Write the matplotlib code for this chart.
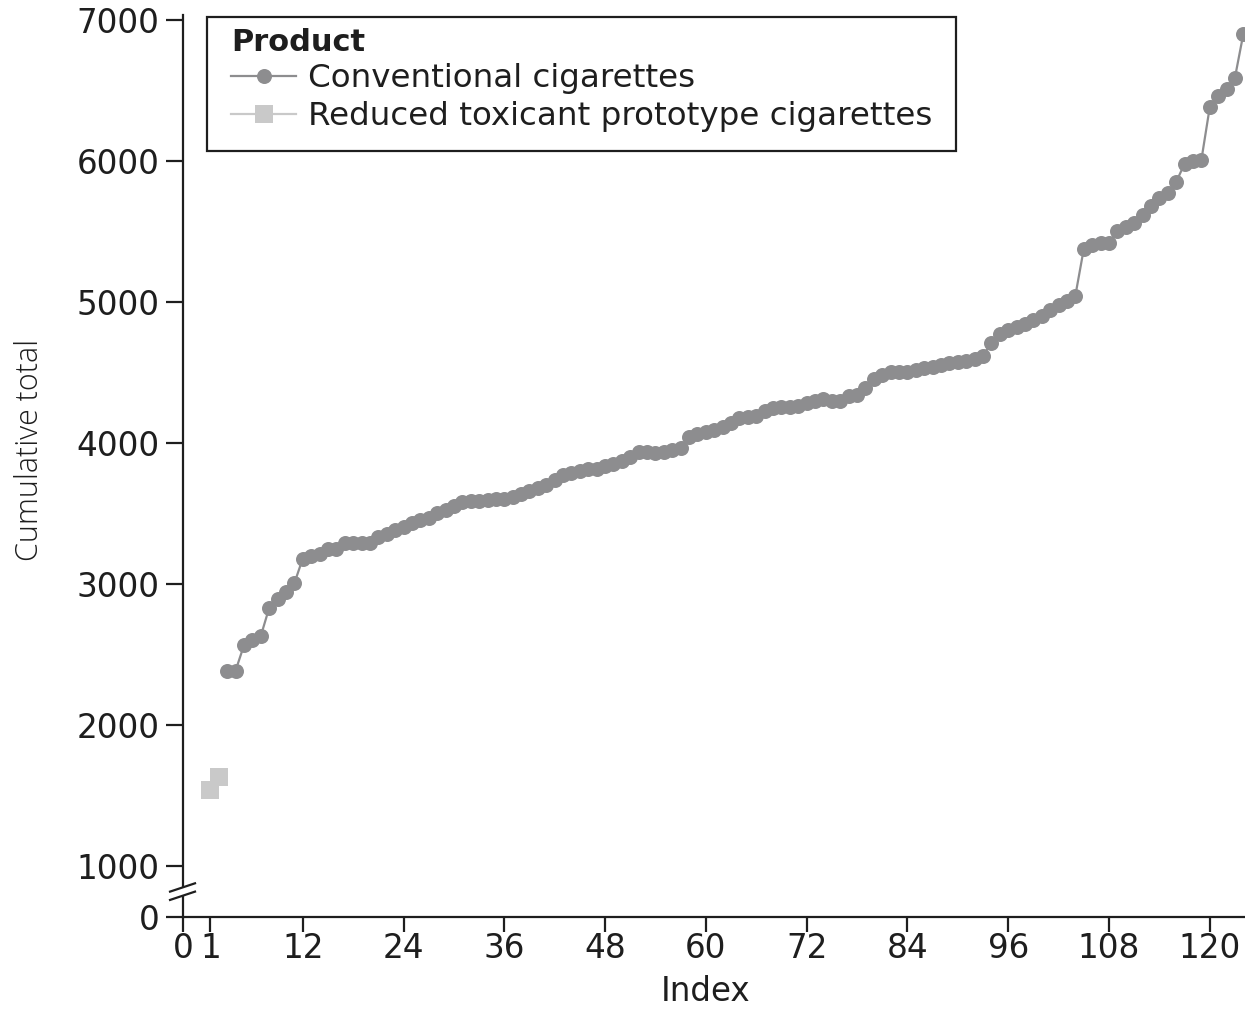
import matplotlib
matplotlib.use("Agg")
import matplotlib.pyplot as plt
from matplotlib.lines import Line2D
from matplotlib.patches import Polygon, Rectangle
from matplotlib.transforms import blended_transform_factory

plt.rcParams["font.family"] = ["DejaVu Sans"]

# Reduced toxicant prototype cigarettes
reduced_index = [1, 2]
reduced_total = [1540, 1630]

# Conventional cigarettes
conv_index = list(range(3, 125))
conv_total = [
    2385, 2385, 2565, 2600, 2630, 2830, 2890, 2945, 3005, 3180,   # 3-12
    3200, 3215, 3250, 3245, 3290, 3290, 3290, 3290, 3330, 3355,   # 13-22
    3380, 3405, 3430, 3450, 3470, 3505, 3525, 3555, 3580, 3590,   # 23-32
    3585, 3595, 3605, 3600, 3620, 3640, 3660, 3680, 3700, 3740,   # 33-42
    3770, 3785, 3800, 3815, 3812, 3835, 3850, 3870, 3900, 3935,   # 43-52
    3935, 3928, 3938, 3950, 3965, 4045, 4065, 4080, 4093, 4115,   # 53-62
    4140, 4175, 4182, 4190, 4230, 4245, 4255, 4257, 4262, 4280,   # 63-72
    4300, 4315, 4295, 4300, 4330, 4340, 4390, 4450, 4485, 4500,   # 73-82
    4505, 4505, 4520, 4530, 4540, 4550, 4565, 4575, 4580, 4595,   # 83-92
    4620, 4710, 4775, 4800, 4825, 4845, 4870, 4900, 4940, 4975,   # 93-102
    5010, 5045, 5375, 5405, 5415, 5420, 5505, 5530, 5560, 5620,   # 103-112
    5680, 5740, 5770, 5850, 5980, 6000, 6005, 6380, 6460, 6510,   # 113-122
    6590, 6900,                                                   # 123-124
]

x_ticks = [1, 12, 24, 36, 48, 60, 72, 84, 96, 108, 120]
y_ticks = [1000, 2000, 3000, 4000, 5000, 6000, 7000]

X_MIN, X_MAX = -2.26, 124.2
Y_MIN, Y_MAX = 638, 7035

CONV_COLOR = "#8d8d8f"
RED_COLOR = "#c9c9c9"
INK = "#1e1e1e"

W, H = 1245, 1009
fig = plt.figure(figsize=(W / 100, H / 100), dpi=100)
ax = fig.add_axes([183 / W, 1 - 917 / H, 1 - 183 / W, (917 - 15) / H])

ax.plot(conv_index, conv_total, color=CONV_COLOR, lw=1.6, marker="o",
        markersize=10.8, markeredgewidth=0, label="Conventional cigarettes",
        zorder=3)
ax.plot(reduced_index, reduced_total, color=RED_COLOR, lw=1.6, marker="s",
        markersize=12.5, markeredgewidth=0, linestyle="none",
        label="Reduced toxicant prototype cigarettes", zorder=3)

ax.set_xlim(X_MIN, X_MAX)
ax.set_ylim(Y_MIN, Y_MAX)

# the axis origins carry the "0" labels
ax.set_xticks([X_MIN] + x_ticks)
ax.set_xticklabels(["0"] + [str(t) for t in x_ticks])
ax.set_yticks([Y_MIN] + y_ticks)
ax.set_yticklabels(["0"] + [str(t) for t in y_ticks])

for side in ("top", "right"):
    ax.spines[side].set_visible(False)
for side in ("left", "bottom"):
    ax.spines[side].set_linewidth(1.6)
    ax.spines[side].set_color(INK)

ax.tick_params(axis="y", direction="out", length=12, width=1.6,
               labelsize=23.5, pad=5, colors=INK)
ax.tick_params(axis="x", direction="out", length=11, width=1.6,
               labelsize=23.5, pad=0, colors=INK)

ax.set_xlabel("Index", fontsize=23.5, color=INK)
ax.xaxis.set_label_coords((706 - 183) / 1062, (917 - 1008) / 902)
ax.xaxis.label.set_va("bottom")
ax.set_ylabel("Cumulative total", fontsize=22, color=INK,
              family=["Open Sans", "DejaVu Sans"], fontweight="light")
ax.yaxis.set_label_coords((30 - 183) / 1062, (917 - 450) / 902)
ax.yaxis.label.set_va("center")

# axis break on the y axis
bt = blended_transform_factory(ax.transAxes, ax.transData)
x0, x1 = -0.0122, 0.0113
gap = Polygon([[x0, 818], [x1, 877], [x1, 818], [x0, 759]], closed=True,
              facecolor="white", edgecolor="none", transform=bt,
              clip_on=False, zorder=5)
ax.add_patch(gap)
for ya, yb in ((818, 877), (759, 818)):
    ax.add_line(Line2D([x0, x1], [ya, yb], color=INK, lw=1.6,
                       transform=bt, clip_on=False, zorder=6))

# legend frame
frame = Rectangle((207 / W, 1 - 151 / H), (956 - 207) / W, (151 - 17) / H,
                  transform=fig.transFigure, facecolor="white",
                  edgecolor=INK, lw=1.6, clip_on=False, zorder=7)
ax.add_patch(frame)
leg = ax.legend(loc="upper left", bbox_to_anchor=(231 / W, 1 - 28 / H),
                bbox_transform=fig.transFigure, title="Product",
                fontsize=23.4, frameon=False, handlelength=2.0,
                handletextpad=0.37, borderpad=0, labelspacing=0.2,
                alignment="left", borderaxespad=0)
leg.set_zorder(8)
leg.get_title().set_fontsize(22)
leg.get_title().set_fontweight("bold")
leg.get_title().set_color(INK)
for t in leg.get_texts():
    t.set_color(INK)
leg.legend_handles[1].set_linestyle("-")

fig.savefig("out.png", dpi=100)
